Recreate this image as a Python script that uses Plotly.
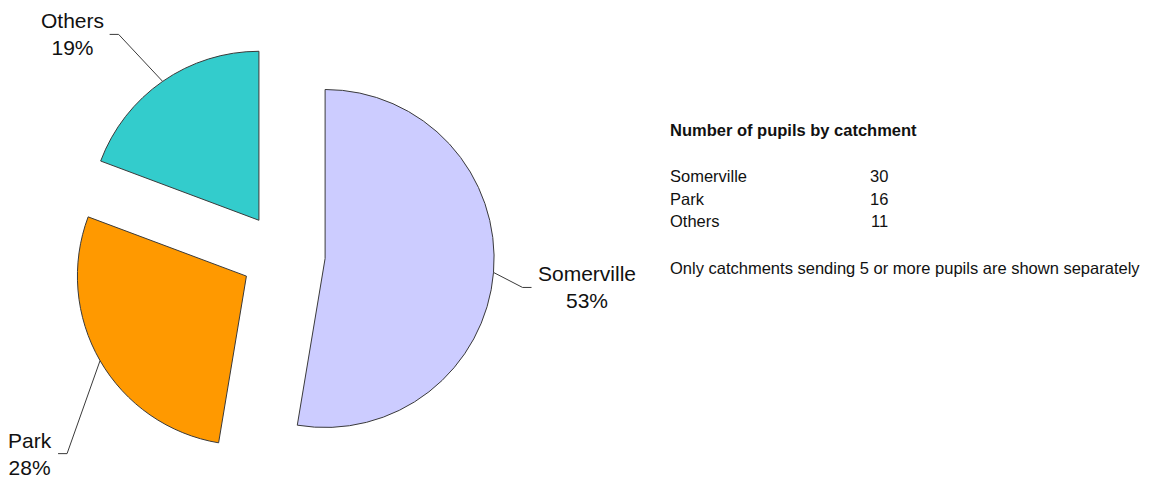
import math
import plotly.graph_objects as go

# Catchment data
catchments = ["Somerville", "Park", "Others"]
pupils = [30, 16, 11]
slice_colors = ["#CCCCFF", "#FF9900", "#33CCCC"]

table_title = "Number of pupils by catchment"
footnote = "Only catchments sending 5 or more pupils are shown separately"

# Page / pie geometry (pixels)
W, H = 1151, 480
CX, CY, R = 283, 255, 169
PULL = 0.25
HALF = R * (1 + PULL)

# Leader-line elbow offsets from the slice edge, and direction of the short tick
label_style = {
    "Somerville": dict(dx=29, dy=15, side=1),
    "Park": dict(dx=-33, dy=93, side=-1),
    "Others": dict(dx=-44, dy=-47, side=-1),
}
TICK = 9
GAP = 4

LABEL_FONT = dict(family="Arial, Liberation Sans, sans-serif", size=21, color="#111111")
TABLE_FONT = dict(family="Arial, Liberation Sans, sans-serif", size=16.5, color="#111111")
LINE_COLOR = "#3a3a3a"


def px(x):
    return x / W


def py(y):
    return 1 - y / H


total = sum(pupils)
shares = [v / total for v in pupils]

fig = go.Figure(
    go.Pie(
        labels=catchments,
        values=pupils,
        sort=False,
        direction="clockwise",
        rotation=0,
        pull=[PULL] * len(pupils),
        marker=dict(colors=slice_colors, line=dict(color=LINE_COLOR, width=1)),
        textinfo="none",
        hoverinfo="skip",
        showlegend=False,
        domain=dict(x=[px(CX - HALF), px(CX + HALF)], y=[py(CY + HALF), py(CY - HALF)]),
    )
)

# Outside labels with elbow leader lines, placed from each slice's mid-angle
shapes = []
annotations = []
cum = 0.0
for name, share in zip(catchments, shares):
    theta = 2 * math.pi * (cum + share / 2)
    cum += share
    dx, dy = math.sin(theta), -math.cos(theta)
    ex, ey = CX + HALF * dx, CY + HALF * dy
    st = label_style[name]
    bx, by = ex + st["dx"], ey + st["dy"]
    tx = bx + st["side"] * TICK
    shapes.append(dict(
        type="path", xref="paper", yref="paper",
        path=f"M {px(ex)} {py(ey)} L {px(bx)} {py(by)} L {px(tx)} {py(by)}",
        line=dict(color=LINE_COLOR, width=1),
    ))
    annotations.append(dict(
        xref="paper", yref="paper",
        x=px(tx + st["side"] * GAP), y=py(by),
        xanchor="left" if st["side"] > 0 else "right", yanchor="middle",
        text=f"{name}<br>{round(share * 100)}%", align="center",
        showarrow=False, font=LABEL_FONT,
    ))

# Summary table to the right of the pie
TX = 668
annotations.append(dict(
    xref="paper", yref="paper", x=px(TX), y=py(130), xanchor="left", yanchor="middle",
    text=f"<b>{table_title}</b>", showarrow=False, font=TABLE_FONT,
))
row_y = [176, 199, 221]
for name, v, yy in zip(catchments, pupils, row_y):
    annotations.append(dict(
        xref="paper", yref="paper", x=px(TX), y=py(yy), xanchor="left", yanchor="middle",
        text=name, showarrow=False, font=TABLE_FONT,
    ))
    annotations.append(dict(
        xref="paper", yref="paper", x=px(890), y=py(yy), xanchor="right", yanchor="middle",
        text=str(v), showarrow=False, font=TABLE_FONT,
    ))
annotations.append(dict(
    xref="paper", yref="paper", x=px(TX), y=py(268), xanchor="left", yanchor="middle",
    text=footnote, showarrow=False, font=TABLE_FONT,
))

fig.update_layout(
    width=W, height=H,
    margin=dict(l=0, r=0, t=0, b=0),
    paper_bgcolor="white", plot_bgcolor="white",
    shapes=shapes, annotations=annotations,
)

fig.write_html("out.html")
